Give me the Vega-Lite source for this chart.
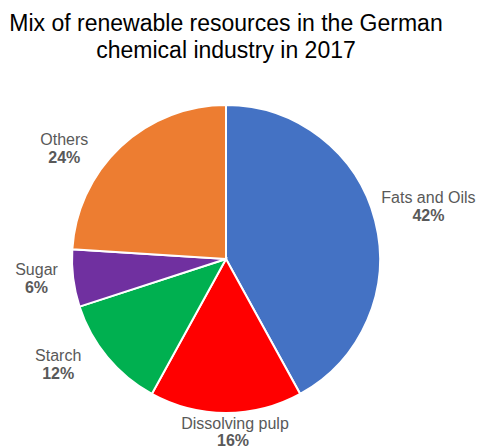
{
  "$schema": "https://vega.github.io/schema/vega-lite/v6.json",
  "width": 452,
  "height": 378,
  "autosize": "none",
  "padding": {"left": 0, "right": 25, "top": 70, "bottom": 0},
  "background": "#ffffff",
  "title": {
    "text": ["Mix of renewable resources in the German", "chemical industry in 2017"],
    "font": "Liberation Sans",
    "fontSize": 23,
    "fontWeight": "normal",
    "color": "#000000",
    "lineHeight": 27,
    "anchor": "middle",
    "offset": 7
  },
  "config": {"view": {"stroke": null}},
  "data": {
    "values": [
      {"category": "Fats and Oils", "value": 42, "rank": 1},
      {"category": "Dissolving pulp", "value": 16, "rank": 2},
      {"category": "Starch", "value": 12, "rank": 3},
      {"category": "Sugar", "value": 6, "rank": 4},
      {"category": "Others", "value": 24, "rank": 5}
    ]
  },
  "transform": [
    {"stack": "value", "groupby": [], "sort": [{"field": "rank", "order": "ascending"}], "as": ["v0", "v1"]},
    {"calculate": "(datum.v0 + datum.v1) / 2", "as": "mid"},
    {"calculate": "datum.value + '%'", "as": "pct"}
  ],
  "layer": [
    {
      "mark": {"type": "arc", "outerRadius": 154, "stroke": "#ffffff", "strokeWidth": 2},
      "encoding": {
        "theta": {"field": "v0", "type": "quantitative", "stack": null, "scale": {"domain": [0, 100]}},
        "theta2": {"field": "v1"},
        "color": {
          "field": "category",
          "type": "nominal",
          "scale": {
            "domain": ["Fats and Oils", "Dissolving pulp", "Starch", "Sugar", "Others"],
            "range": ["#4472C4", "#FF0000", "#00B050", "#7030A0", "#ED7D31"]
          },
          "legend": null
        }
      }
    },
    {
      "transform": [{"filter": "datum.category === 'Fats and Oils'"}],
      "mark": {"type": "text", "radius": 209, "dy": -9, "font": "Liberation Sans", "fontSize": 16, "color": "#595959"},
      "encoding": {"theta": {"field": "mid", "type": "quantitative", "stack": null}, "text": {"field": "category"}}
    },
    {
      "transform": [{"filter": "datum.category === 'Fats and Oils'"}],
      "mark": {"type": "text", "radius": 209, "dy": 9, "font": "Liberation Sans", "fontSize": 16, "fontWeight": "bold", "color": "#595959"},
      "encoding": {"theta": {"field": "mid", "type": "quantitative", "stack": null}, "text": {"field": "pct"}}
    },
    {
      "transform": [{"filter": "datum.category === 'Dissolving pulp'"}],
      "mark": {"type": "text", "radius": 174, "dx": 9, "dy": -9, "font": "Liberation Sans", "fontSize": 16, "color": "#595959"},
      "encoding": {"theta": {"field": "mid", "type": "quantitative", "stack": null}, "text": {"field": "category"}}
    },
    {
      "transform": [{"filter": "datum.category === 'Dissolving pulp'"}],
      "mark": {"type": "text", "radius": 174, "dx": 7, "dy": 8, "font": "Liberation Sans", "fontSize": 16, "fontWeight": "bold", "color": "#595959"},
      "encoding": {"theta": {"field": "mid", "type": "quantitative", "stack": null}, "text": {"field": "pct"}}
    },
    {
      "transform": [{"filter": "datum.category === 'Starch'"}],
      "mark": {"type": "text", "radius": 197, "dx": -16, "dy": -29, "font": "Liberation Sans", "fontSize": 16, "color": "#595959"},
      "encoding": {"theta": {"field": "mid", "type": "quantitative", "stack": null}, "text": {"field": "category"}}
    },
    {
      "transform": [{"filter": "datum.category === 'Starch'"}],
      "mark": {"type": "text", "radius": 197, "dx": -16, "dy": -11, "font": "Liberation Sans", "fontSize": 16, "fontWeight": "bold", "color": "#595959"},
      "encoding": {"theta": {"field": "mid", "type": "quantitative", "stack": null}, "text": {"field": "pct"}}
    },
    {
      "transform": [{"filter": "datum.category === 'Sugar'"}],
      "mark": {"type": "text", "radius": 191, "dy": -13, "font": "Liberation Sans", "fontSize": 16, "color": "#595959"},
      "encoding": {"theta": {"field": "mid", "type": "quantitative", "stack": null}, "text": {"field": "category"}}
    },
    {
      "transform": [{"filter": "datum.category === 'Sugar'"}],
      "mark": {"type": "text", "radius": 191, "dy": 5, "font": "Liberation Sans", "fontSize": 16, "fontWeight": "bold", "color": "#595959"},
      "encoding": {"theta": {"field": "mid", "type": "quantitative", "stack": null}, "text": {"field": "pct"}}
    },
    {
      "transform": [{"filter": "datum.category === 'Others'"}],
      "mark": {"type": "text", "radius": 191, "dx": -31, "dy": 20, "font": "Liberation Sans", "fontSize": 16, "color": "#595959"},
      "encoding": {"theta": {"field": "mid", "type": "quantitative", "stack": null}, "text": {"field": "category"}}
    },
    {
      "transform": [{"filter": "datum.category === 'Others'"}],
      "mark": {"type": "text", "radius": 191, "dx": -31, "dy": 38, "font": "Liberation Sans", "fontSize": 16, "fontWeight": "bold", "color": "#595959"},
      "encoding": {"theta": {"field": "mid", "type": "quantitative", "stack": null}, "text": {"field": "pct"}}
    }
  ]
}
